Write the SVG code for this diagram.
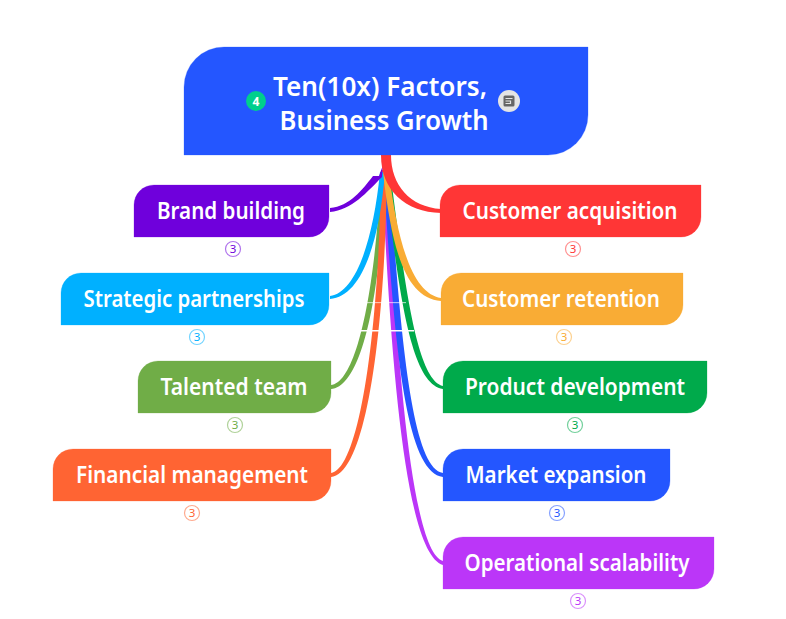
<svg xmlns="http://www.w3.org/2000/svg" width="786" height="619" viewBox="0 0 786 619">
<style>
text{font-family:"Noto Sans","Open Sans","Liberation Sans",sans-serif}
.t{fill:#fff;font-size:22.5px;font-weight:600;text-anchor:middle}
.r{fill:#fff;font-size:27px;font-weight:600;text-anchor:middle}
.b{fill:#fff;stroke-opacity:.55;stroke-width:1.200}
.n{font-size:11.500px;text-anchor:middle}
.s{stroke-opacity:.25;stroke-width:1}
</style>
<rect width="786" height="619" fill="#fff"/>
<g id="connectors">
<path fill="#bb36f8" d="M382,170C392,400 409,555 443,565L443,561C415,553 398,400 388,170Z"/>
<path fill="#2456ff" d="M383,170C394,330 403,472 443,477L443,473C411,468 400,330 389,170Z"/>
<path fill="#70ad47" d="M381,170C375,300 355,383 331,385L331,389C361,387 381,300 385,170Z"/>
<path fill="#ff6433" d="M381,170C379,340 358,470 331,473L331,477C365,474 385,340 387,170Z"/>
<path fill="#00aa4b" d="M384,170C399,292 410,384 443,389L443,386C417,380 405,288 390,170Z"/>
<path fill="#00b0ff" d="M380,172C373,243 355,293 330,296L330,299C360,297 379,247 385,172Z"/>
<path fill="#f9ac35" d="M383,172C392,252 406,298 441,301L441,298C414,294 398,248 389,172Z"/>
<path fill="#6f00dc" d="M383,165L382,177C367,192 352,210 330,212L330,208C350,206 362,190 373,176L379,176Z"/>
<path fill="#ff3636" d="M381,155L391,155C391,185 410,207 441,209L441,213C405,212 381,190 381,155Z"/>
<rect x="364" y="302.400" width="42" height="0.700" fill="#fff"/>
<rect x="360" y="330" width="54" height="1.500" fill="#fff"/>
</g>
<g id="root">
<path fill="#2456ff" stroke="#2456ff" class="s" d="M184,155V87A40,40 0 0 1 224,47H588V115A40,40 0 0 1 548,155Z"/>
<text class="r" x="380" y="96" textLength="214" lengthAdjust="spacingAndGlyphs">Ten(10x) Factors,</text>
<text class="r" x="384" y="130" textLength="209" lengthAdjust="spacingAndGlyphs">Business Growth</text>
<circle cx="256" cy="101" r="10" fill="#00cf8c"/>
<text x="256" y="105.500" font-size="12" font-weight="700" fill="#fff" text-anchor="middle">4</text>
<circle cx="509" cy="101" r="11" fill="#e4e4e4"/>
<rect x="503.500" y="95.500" width="11" height="11" rx="1.500" fill="#666"/>
<path fill="none" stroke="#e4e4e4" stroke-width="1.200" d="M505.500,98.500H512.500M505.500,101H510.500V103.500H505.500"/>
</g>
<g id="brand-building">
<path fill="#6f00dc" stroke="#6f00dc" class="s" d="M134,237V205A20,20 0 0 1 154,185H329V217A20,20 0 0 1 309,237Z"/>
<text class="t" x="231" y="219" textLength="148" lengthAdjust="spacingAndGlyphs">Brand building</text>
<circle class="b" cx="233" cy="249" r="7.500" stroke="#6f00dc"/><text class="n" x="233" y="253" fill="#6f00dc">3</text>
</g>
<g id="strategic-partnerships">
<path fill="#00b0ff" stroke="#00b0ff" class="s" d="M61,325V293A20,20 0 0 1 81,273H329V305A20,20 0 0 1 309,325Z"/>
<text class="t" x="194" y="307" textLength="221" lengthAdjust="spacingAndGlyphs">Strategic partnerships</text>
<circle class="b" cx="197" cy="337" r="7.500" stroke="#00b0ff"/><text class="n" x="197" y="341" fill="#00b0ff">3</text>
</g>
<g id="talented-team">
<path fill="#70ad47" stroke="#70ad47" class="s" d="M138,413V381A20,20 0 0 1 158,361H331V393A20,20 0 0 1 311,413Z"/>
<text class="t" x="234" y="395" textLength="147" lengthAdjust="spacingAndGlyphs">Talented team</text>
<circle class="b" cx="235" cy="425" r="7.500" stroke="#70ad47"/><text class="n" x="235" y="429" fill="#70ad47">3</text>
</g>
<g id="financial-management">
<path fill="#ff6433" stroke="#ff6433" class="s" d="M53,501V469A20,20 0 0 1 73,449H331V481A20,20 0 0 1 311,501Z"/>
<text class="t" x="192" y="483" textLength="232" lengthAdjust="spacingAndGlyphs">Financial management</text>
<circle class="b" cx="192" cy="513" r="7.500" stroke="#ff6433"/><text class="n" x="192" y="517" fill="#ff6433">3</text>
</g>
<g id="customer-acquisition">
<path fill="#ff3636" stroke="#ff3636" class="s" d="M440,237V205A20,20 0 0 1 460,185H701V217A20,20 0 0 1 681,237Z"/>
<text class="t" x="570" y="219" textLength="215" lengthAdjust="spacingAndGlyphs">Customer acquisition</text>
<circle class="b" cx="573" cy="249" r="7.500" stroke="#ff3636"/><text class="n" x="573" y="253" fill="#ff3636">3</text>
</g>
<g id="customer-retention">
<path fill="#f9ac35" stroke="#f9ac35" class="s" d="M441,325V293A20,20 0 0 1 461,273H683V305A20,20 0 0 1 663,325Z"/>
<text class="t" x="561" y="307" textLength="198" lengthAdjust="spacingAndGlyphs">Customer retention</text>
<circle class="b" cx="564" cy="337" r="7.500" stroke="#f9ac35"/><text class="n" x="564" y="341" fill="#f9ac35">3</text>
</g>
<g id="product-development">
<path fill="#00aa4b" stroke="#00aa4b" class="s" d="M443,413V381A20,20 0 0 1 463,361H707V393A20,20 0 0 1 687,413Z"/>
<text class="t" x="575" y="395" textLength="220" lengthAdjust="spacingAndGlyphs">Product development</text>
<circle class="b" cx="575" cy="425" r="7.500" stroke="#00aa4b"/><text class="n" x="575" y="429" fill="#00aa4b">3</text>
</g>
<g id="market-expansion">
<path fill="#2456ff" stroke="#2456ff" class="s" d="M443,501V469A20,20 0 0 1 463,449H670V481A20,20 0 0 1 650,501Z"/>
<text class="t" x="556" y="483" textLength="181" lengthAdjust="spacingAndGlyphs">Market expansion</text>
<circle class="b" cx="557" cy="513" r="7.500" stroke="#2456ff"/><text class="n" x="557" y="517" fill="#2456ff">3</text>
</g>
<g id="operational-scalability">
<path fill="#bb36f8" stroke="#bb36f8" class="s" d="M443,589V557A20,20 0 0 1 463,537H714V569A20,20 0 0 1 694,589Z"/>
<text class="t" x="577" y="571" textLength="225" lengthAdjust="spacingAndGlyphs">Operational scalability</text>
<circle class="b" cx="578" cy="601" r="7.500" stroke="#bb36f8"/><text class="n" x="578" y="605" fill="#bb36f8">3</text>
</g>
</svg>
